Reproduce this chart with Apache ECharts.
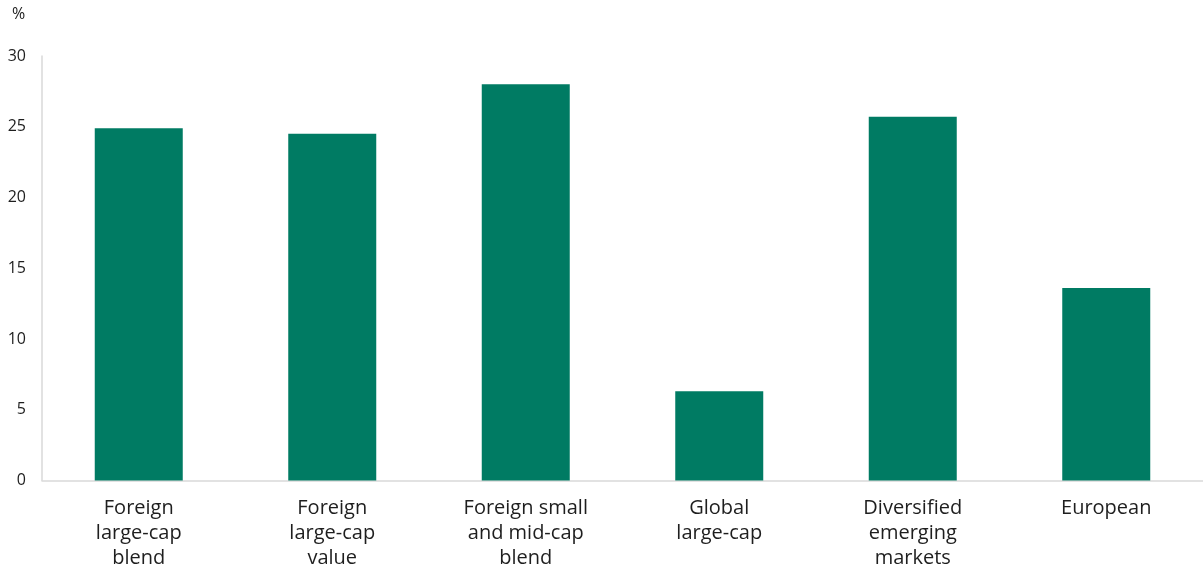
<!DOCTYPE html>
<html>
<head>
<meta charset="utf-8">
<script src="https://cdn.jsdelivr.net/npm/echarts@6/dist/echarts.min.js"></script>
<style>
  html, body { margin: 0; padding: 0; background: #ffffff; }
  #chart { width: 1203px; height: 572px; }
</style>
</head>
<body>
<div id="chart"></div>
<script>
// Fund categories and their values (%)
const categories = [
  'Foreign\nlarge-cap\nblend',
  'Foreign\nlarge-cap\nvalue',
  'Foreign small\nand mid-cap\nblend',
  'Global\nlarge-cap',
  'Diversified\nemerging\nmarkets',
  'European'
];
const values = [24.9, 24.5, 28.0, 6.3, 25.7, 13.6];
const yTicks = [0, 5, 10, 15, 20, 25, 30];

const fontFamily = '"Open Sans", "Noto Sans", sans-serif';
const chart = echarts.init(document.getElementById('chart'));

chart.setOption({
  animation: false,
  backgroundColor: '#ffffff',
  grid: { left: 42, top: 56, width: 1164, height: 424.5, containLabel: false },
  graphic: [{
    type: 'text', left: 12, top: 6,
    style: { text: '%', fontSize: 16, fill: '#222222', fontFamily: fontFamily }
  }],
  xAxis: {
    type: 'category',
    data: categories,
    axisLine: { show: true, lineStyle: { color: '#d9d9d9', width: 1.5 } },
    axisTick: { show: false },
    axisLabel: {
      interval: 0, margin: 15, fontSize: 20, lineHeight: 25,
      color: '#1e1e1e', fontFamily: fontFamily, align: 'center'
    }
  },
  yAxis: {
    type: 'value',
    min: yTicks[0], max: yTicks[yTicks.length - 1], interval: 5,
    axisLine: { show: true, lineStyle: { color: '#d9d9d9', width: 1.5 } },
    axisTick: { show: false },
    splitLine: { show: false },
    axisLabel: { margin: 16, fontSize: 16, color: '#1e1e1e', fontFamily: fontFamily }
  },
  series: [{
    type: 'bar',
    data: values,
    barWidth: 88,
    itemStyle: { color: '#007B63' }
  }]
});
</script>
</body>
</html>
